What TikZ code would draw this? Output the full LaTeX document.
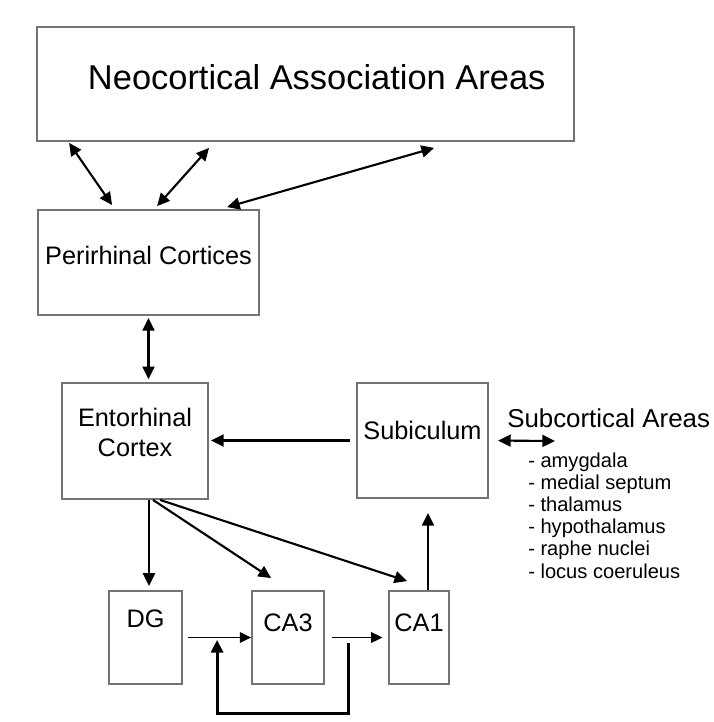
\documentclass[tikz,border=0pt]{standalone}
\usepackage{fontspec}
\setmainfont{Liberation Sans}
\usepackage{xcolor}
\usepackage{tikz}
\usetikzlibrary{arrows.meta, positioning, calc}
\definecolor{boxgray}{RGB}{115,115,115}

\begin{document}
\begin{tikzpicture}[
  every node/.style={font=\fontsize{18}{21.5}\selectfont},
  area/.style={rectangle, draw=boxgray, line width=1.3pt, align=center,
               inner sep=0pt},
  item/.style={font=\fontsize{14.3}{16}\selectfont, anchor=base west, inner sep=0pt},
  arrow/.style={-{Triangle[length=9pt, width=8.5pt]}, line width=1.5pt},
  biarrow/.style={{Triangle[length=9pt, width=8.5pt]}-{Triangle[length=9pt, width=8.5pt]},
                  line width=1.5pt},
  thinarrow/.style={-{Triangle[length=8pt, width=7.5pt]}, line width=1pt},
  looparrow/.style={-{Triangle[length=9pt, width=8.5pt]}, line width=2.2pt},
]
\useasboundingbox (0,0) rectangle (17.85,-18.05);

% ── cortex boxes ──
\node[area, minimum width=13.425cm, minimum height=2.85cm, text depth=10pt,
      font=\fontsize{24.5}{29}\selectfont] (neo) at (7.6375,-2.1)
      {\hspace*{16pt}Neocortical Association Areas};
\node[area, minimum width=5.525cm, minimum height=2.625cm, text depth=10pt]
      (peri) at (3.7125,-6.5625) {Perirhinal Cortices};
\node[area, minimum width=3.65cm, minimum height=2.9cm, text depth=12pt]
      (ento) at (3.375,-11.025) {Entorhinal\\Cortex};
\node[area, minimum width=3.275cm, minimum height=2.875cm, text depth=14pt]
      (sub) at (10.5625,-11.0125) {Subiculum};

% ── hippocampal fields ──
\node[area, minimum width=1.825cm, minimum height=2.325cm, text depth=27pt]
      (dg) at (3.6375,-15.9375) {DG};
\node[area, minimum width=1.8cm, minimum height=2.325cm, text depth=21pt]
      (ca3) at (7.2,-15.9375) {CA3};
\node[area, minimum width=1.5cm, minimum height=2.325cm, text depth=21pt]
      (ca1) at (10.475,-15.9375) {CA1};

% ── subcortical list ──
\node[item, font=\fontsize{18.4}{22}\selectfont] (subc) at (12.675,-10.675) {Subcortical Areas};
\node[item] (s1) at (13.2,-11.675) {- amygdala};
\node[item, below=0.555cm of s1.base west, anchor=base west] (s2) {- medial septum};
\node[item, below=0.555cm of s2.base west, anchor=base west] (s3) {- thalamus};
\node[item, below=0.555cm of s3.base west, anchor=base west] (s4) {- hypothalamus};
\node[item, below=0.555cm of s4.base west, anchor=base west] (s5) {- raphe nuclei};
\node[item, below=0.555cm of s5.base west, anchor=base west] (s6) {- locus coeruleus};
\coordinate (subcin) at (13.875,-11.025);

% ── connections ──
\draw[biarrow] ([xshift=0.825cm,yshift=-0.025cm]neo.south west)
            -- ([xshift=1.875cm,yshift=0.1cm]peri.north west);
\draw[biarrow] ([xshift=4.325cm,yshift=-0.15cm]neo.south west)
            -- ([xshift=3.0cm,yshift=0.075cm]peri.north west);
\draw[biarrow] ([xshift=9.95cm,yshift=-0.15cm]neo.south west)
            -- ([xshift=4.75cm,yshift=0.05cm]peri.north west);
\draw[biarrow, shorten <=1.5pt, shorten >=2pt] (peri.south) -- (peri.south |- ento.north);
\draw[arrow, shorten <=4.3pt, shorten >=1.5pt] (sub.west) -- (sub.west -| ento.east);
\draw[biarrow, shorten <=6.5pt] (sub.east) -- (subcin);

\draw[arrow, shorten >=3pt] ([xshift=0.35cm]ento.south) -- ([xshift=0.35cm]ento.south |- dg.north);
\draw[arrow] ([xshift=0.45cm]ento.south) -- ([xshift=0.5cm,yshift=0.3cm]ca3.north west);
\draw[arrow] ([xshift=0.625cm]ento.south) -- ([xshift=0.475cm,yshift=0.225cm]ca1.north west);
\draw[arrow, shorten >=10pt] ([xshift=0.225cm]ca1.north) -- ([xshift=0.225cm]ca1.north |- sub.south);

\draw[thinarrow, shorten <=3.5pt] (dg.east) -- (ca3.west);
\draw[thinarrow, shorten <=5pt, shorten >=4pt] (ca3.east) -- (ca1.west);
\draw[looparrow] ([xshift=0.6cm,yshift=-0.14cm]ca3.east) |- ([yshift=-0.725cm]ca3.south)
              -| ([xshift=-0.85cm,yshift=-0.06cm]ca3.west);

\end{tikzpicture}
\end{document}
